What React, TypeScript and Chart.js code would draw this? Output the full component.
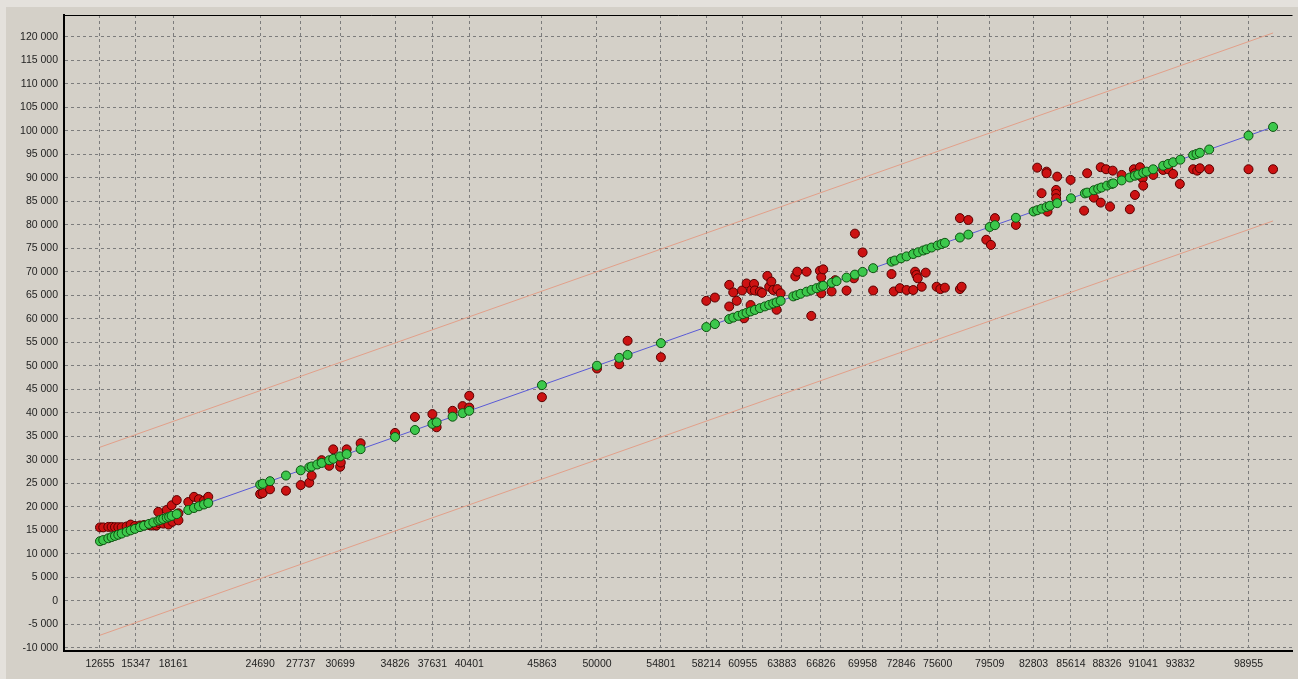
import React, { useEffect, useRef } from 'react';
import { Chart, registerables } from 'chart.js';

Chart.register(...registerables);

const xTickValues = [
  12655, 15347, 18161, 24690, 27737, 30699, 34826, 37631, 40401, 45863, 50000, 54801, 58214,
  60955, 63883, 66826, 69958, 72846, 75600, 79509, 82803, 85614, 88326, 91041, 93832, 98955,
];

const yTickValues = [
  -10000, -5000, 0, 5000, 10000, 15000, 20000, 25000, 30000, 35000, 40000, 45000, 50000, 55000,
  60000, 65000, 70000, 75000, 80000, 85000, 90000, 95000, 100000, 105000, 110000, 115000, 120000,
];

// predicted values (green points lie on the line y = x)
const predictedX = [
  12655, 12900, 13280, 13530, 13780, 14030, 14285, 14660, 14960, 15285, 15660, 15960, 16340,
  16660, 17035, 17200, 17410, 17670, 17850, 18040, 18420, 19290, 19720, 20090, 20470, 20790,
  24690, 24880, 25430, 26630, 27737, 28380, 28560, 28980, 29310, 29880, 30180, 30699, 31190,
  32240, 34826, 36320, 37631, 37950, 39150, 39900, 40401,
  45863, 50000, 51670, 52300, 54801, 58214, 58860,
  59935, 60235, 60610, 60955, 61240, 61540, 61860, 62240, 62615, 62940, 63240, 63495, 63800,
  64745, 65000, 65300, 65750, 66120, 66500, 66826, 67000, 67630, 68000, 68750, 69380, 69958,
  70750, 72130, 72380, 72846, 73260, 73760, 74130, 74510, 74760, 75140, 75600, 75890, 76140,
  77270, 77900, 79509, 79900,
  81475, 82803, 83075, 83405, 83780, 84030, 84580, 85614, 86660, 86830, 87335, 87660, 87910,
  88326, 88665, 88790, 89420, 90040, 90420, 90665, 91041, 91295, 91790, 92540, 92920, 93290,
  93832, 94795, 95050, 95300, 96000, 98955, 100800,
];

// actual values (red points)
const actualX = [
  12655, 12900, 13280, 13530, 13780, 14030, 14285, 14660, 14960, 15285, 15660, 15960, 16340,
  16660, 16900, 17035, 17100, 17410, 17670, 17800, 18040, 18100, 18420, 18550, 18550, 19290,
  19720, 20090, 20470, 20790,
  24690, 24880, 25430, 26630, 27737, 28380, 28560, 29310, 29880, 30180, 30699, 30750, 31190,
  32240, 34826, 36320, 37631, 37950, 39150, 39900, 40401, 40401,
  45863, 50000, 51670, 52300, 54801, 58214, 58860,
  59935, 60235, 59935, 60500, 60900, 61050, 61240, 61540, 61600, 61800, 61860, 62240, 62400,
  62800, 62940, 63100, 63240, 63495, 63550, 63800, 64900, 65050, 65750, 66100, 66750, 66850,
  67000, 66850, 67630, 67900, 68750, 69300, 69380, 69958, 70750, 72130, 72300, 72760, 73260,
  73760, 73900, 74000, 74100, 74400, 74700, 75520, 75800, 76140, 77270, 77400, 77270, 77900,
  79250, 79600, 79900,
  81475, 83075, 83780, 83780, 83405, 83850, 84500, 84500, 84500, 84580, 85585, 86600, 86830,
  87335, 87850, 87850, 88250, 88550, 88750, 89420, 90040, 90340, 90420, 90420, 90800, 91000,
  91041, 91800, 92540, 92920, 93290, 93795, 94795, 95100, 95300, 96000, 98955, 100800,
];

const actualY = [
  15600, 15600, 15700, 15700, 15650, 15650, 15650, 15800, 16200, 15900, 16000, 16100, 16100,
  16000, 16000, 18900, 16500, 16400, 19300, 16200, 20300, 16800, 21400, 18600, 17100, 21000,
  22100, 21600, 21300, 22100,
  22700, 22900, 23700, 23400, 24600, 25100, 26600, 29900, 28700, 32200, 28500, 29400, 32200,
  33500, 35700, 39100, 39700, 36900, 40400, 41400, 43600, 41100,
  43300, 49400, 50300, 55300, 51800, 63800, 64500,
  67200, 65600, 62600, 63800, 66000, 60100, 67500, 62900, 66100, 67400, 66000, 65800, 65500,
  69100, 66800, 67900, 66100, 61900, 66300, 65400, 69000, 70000, 70000, 60600, 70200, 68800,
  70500, 65400, 65800, 68200, 66000, 68600, 78100, 74100, 66000, 69500, 65800, 66500, 66100,
  66100, 70000, 69300, 68600, 66800, 69800, 66800, 66300, 66600, 66300, 66800, 81400, 81000,
  76800, 75700, 81400,
  79950, 92140, 91290, 90950, 86700, 82780, 87400, 86550, 85630, 90230, 89530, 82990, 90950,
  85760, 92230, 84700, 91800, 83840, 91500, 90590, 83290, 91800, 86330, 90950, 92230, 89890,
  88310, 90590, 91650, 91800, 90800, 88670, 91800, 91500, 92010, 91800, 91800, 91800,
];

const bandOffset = 20000;

const formatThousands = (v: number) => {
  const s = String(Math.abs(Math.round(v))).replace(/\B(?=(\d{3})+(?!\d))/g, ' ');
  return v < 0 ? '-' + s : s;
};

export default function App() {
  const ref = useRef<HTMLCanvasElement | null>(null);

  useEffect(() => {
    document.body.style.margin = '0';
    document.body.style.overflow = 'hidden';
    const canvas = ref.current;
    if (!canvas) return;

    const lineStart = Math.min(...predictedX);
    const lineEnd = Math.max(...predictedX);

    const background = {
      id: 'background',
      beforeDraw(chart: any) {
        const { ctx, width, height } = chart;
        ctx.save();
        ctx.fillStyle = '#e4e1dc';
        ctx.fillRect(0, 0, width, height);
        ctx.fillStyle = '#d4d0c8';
        ctx.fillRect(6, 7, width - 6, height - 7);
        ctx.restore();
      },
      beforeDatasetsDraw(chart: any) {
        const { ctx, chartArea } = chart;
        ctx.save();
        ctx.strokeStyle = '#000000';
        ctx.lineWidth = 1;
        ctx.beginPath();
        ctx.moveTo(chartArea.left, chartArea.top + 0.5);
        ctx.lineTo(chartArea.right, chartArea.top + 0.5);
        ctx.stroke();
        ctx.restore();
      },
    };

    const font = { family: "'Liberation Sans', Arial, sans-serif", size: 10.5 };

    const chart = new Chart(canvas, {
      type: 'scatter',
      data: {
        datasets: [
          {
            label: 'predicted',
            data: predictedX.map((x) => ({ x, y: x })),
            pointRadius: 4.5,
            pointBackgroundColor: '#3cc84c',
            pointBorderColor: '#0e5210',
            pointBorderWidth: 1,
            showLine: false,
            order: 1,
          },
          {
            label: 'actual',
            data: actualX.map((x, i) => ({ x, y: actualY[i] })),
            pointRadius: 4.5,
            pointBackgroundColor: '#cc1212',
            pointBorderColor: '#5a0000',
            pointBorderWidth: 1,
            showLine: false,
            order: 2,
          },
          {
            label: 'fit',
            data: [
              { x: lineStart, y: lineStart },
              { x: lineEnd, y: lineEnd },
            ],
            showLine: true,
            borderColor: '#5a5ad6',
            borderWidth: 1,
            pointRadius: 0,
            order: 3,
          },
          {
            label: 'upper',
            data: [
              { x: lineStart, y: lineStart + bandOffset },
              { x: lineEnd, y: lineEnd + bandOffset },
            ],
            showLine: true,
            borderColor: '#e2a08a',
            borderWidth: 1,
            pointRadius: 0,
            order: 4,
          },
          {
            label: 'lower',
            data: [
              { x: lineStart, y: lineStart - bandOffset },
              { x: lineEnd, y: lineEnd - bandOffset },
            ],
            showLine: true,
            borderColor: '#e2a08a',
            borderWidth: 1,
            pointRadius: 0,
            order: 5,
          },
        ],
      },
      options: {
        animation: false,
        responsive: false,
        devicePixelRatio: 1,
        layout: { padding: { top: 15, right: 5, left: 0, bottom: 0 } },
        plugins: {
          legend: { display: false },
          tooltip: { enabled: false },
        },
        scales: {
          x: {
            type: 'linear',
            min: 9951,
            max: 102260,
            afterBuildTicks: (scale: any) => {
              scale.ticks = xTickValues.map((v) => ({ value: v }));
            },
            afterFit: (scale: any) => {
              scale.height = 28;
            },
            grid: { color: '#7c7c7c', lineWidth: 1, drawTicks: false },
            border: { display: true, color: '#000000', width: 2, dash: [3, 3] },
            ticks: {
              autoSkip: false,
              maxRotation: 0,
              padding: 7,
              color: '#1e1e1e',
              font,
              callback: (v: any) => String(v),
            },
          },
          y: {
            type: 'linear',
            min: -10702,
            max: 124617,
            afterBuildTicks: (scale: any) => {
              scale.ticks = yTickValues.map((v) => ({ value: v }));
            },
            afterFit: (scale: any) => {
              scale.width = 64;
            },
            grid: { color: '#7c7c7c', lineWidth: 1, drawTicks: false },
            border: { display: true, color: '#000000', width: 2, dash: [3, 3] },
            ticks: {
              padding: 6,
              color: '#1e1e1e',
              font,
              callback: (v: any) => formatThousands(Number(v)),
            },
          },
        },
      },
      plugins: [background],
    } as any);

    return () => {
      chart.destroy();
    };
  }, []);

  return (
    <div style={{ width: 1298, height: 679 }}>
      <canvas ref={ref} width={1298} height={679} style={{ display: 'block', width: 1298, height: 679 }} />
    </div>
  );
}
